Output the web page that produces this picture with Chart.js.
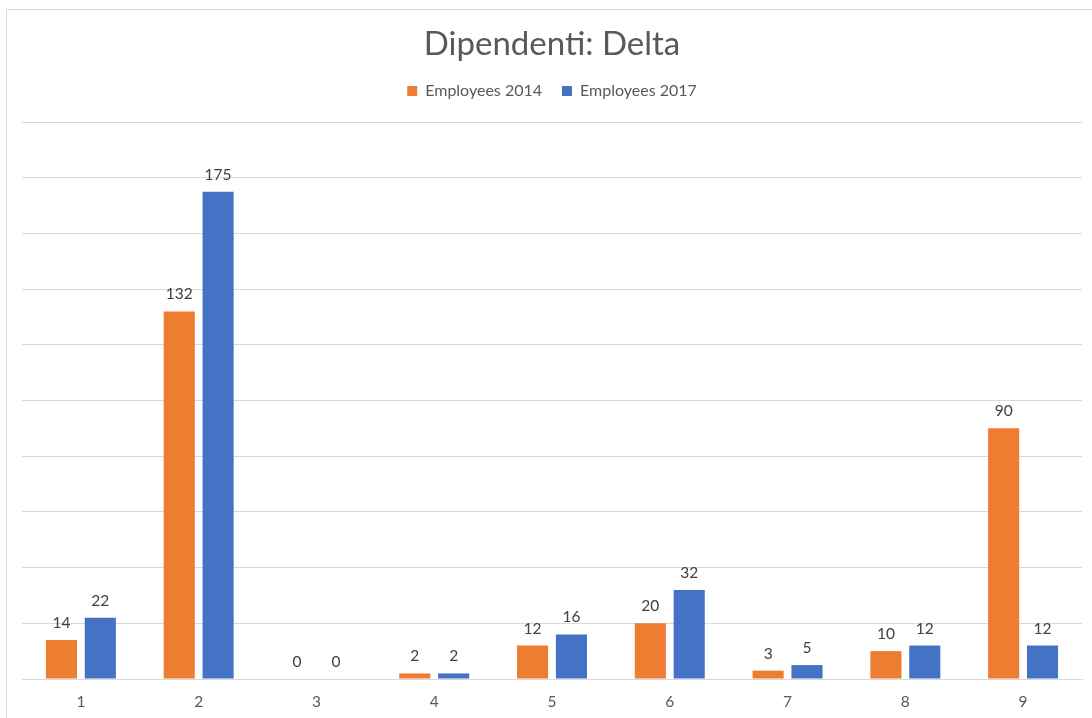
<!DOCTYPE html>
<html>
<head>
<meta charset="utf-8">
<script src="https://cdn.jsdelivr.net/npm/chart.js@4.4.1/dist/chart.umd.min.js"></script>
<style>
  html, body { margin: 0; padding: 0; background: #fff; overflow: hidden; }
  #frame { position: absolute; left: 6px; top: 9px; width: 1200px; height: 800px; border: 1px solid #d9d9d9; box-sizing: border-box; }
  #wrap { position: absolute; left: 0; top: 0; width: 1092px; height: 718px; }
</style>
</head>
<body>
<div id="frame"></div>
<div id="wrap"><canvas id="c" width="1092" height="718"></canvas></div>
<script>
const categories = ['1', '2', '3', '4', '5', '6', '7', '8', '9'];
const employees2014 = [14, 132, 0, 2, 12, 20, 3, 10, 90];
const employees2017 = [22, 175, 0, 2, 16, 32, 5, 12, 12];
const seriesNames = ['Employees 2014', 'Employees 2017'];
const chartTitle = 'Dipendenti: Delta';

const FONT = 'Lato, "Liberation Sans", sans-serif';

const legendSpacer = {
  id: 'legendSpacer',
  beforeLayout(chart) {
    const lg = chart.legend;
    if (lg && !lg._spaced) {
      const orig = lg.fit;
      lg.fit = function () { orig.call(this); this.height += 13; };
      lg._spaced = true;
    }
  }
};

const valueLabels = {
  id: 'valueLabels',
  afterDatasetsDraw(chart) {
    const ctx = chart.ctx;
    ctx.save();
    ctx.font = '15.5px ' + FONT;
    ctx.fillStyle = '#404040';
    ctx.textAlign = 'center';
    ctx.textBaseline = 'alphabetic';
    chart.data.datasets.forEach((ds, di) => {
      const meta = chart.getDatasetMeta(di);
      meta.data.forEach((el, i) => {
        ctx.fillText(String(ds.data[i]), el.x, el.y - 12);
      });
    });
    ctx.restore();
  }
};

new Chart(document.getElementById('c'), {
  type: 'bar',
  data: {
    labels: categories,
    datasets: [
      { label: seriesNames[0], data: employees2014, backgroundColor: '#ED7D31', barPercentage: 0.8, categoryPercentage: 0.66 },
      { label: seriesNames[1], data: employees2017, backgroundColor: '#4472C4', barPercentage: 0.8, categoryPercentage: 0.66 }
    ]
  },
  options: {
    responsive: false,
    animation: false,
    layout: { padding: { left: 22, right: 10, top: 9, bottom: 0 } },
    plugins: {
      title: {
        display: true,
        text: chartTitle,
        color: '#595959',
        font: { family: FONT, size: 33, weight: 'normal', lineHeight: 1.0 },
        padding: { top: 19, bottom: 2 }
      },
      legend: {
        display: true,
        position: 'top',
        labels: {
          color: '#595959',
          font: { family: FONT, size: 16 },
          boxWidth: 10,
          boxHeight: 10,
          padding: 20
        }
      },
      tooltip: { enabled: false }
    },
    scales: {
      x: {
        grid: { display: false, drawTicks: false },
        border: { display: true, color: '#d9d9d9' },
        ticks: { color: '#595959', font: { family: FONT, size: 15.5 }, padding: 14 },
        afterFit(scale) { scale.height = 39; }
      },
      y: {
        min: 0, max: 200,
        grid: { color: '#d9d9d9', drawTicks: false },
        border: { display: false },
        ticks: { display: false, stepSize: 20 }
      }
    }
  },
  plugins: [legendSpacer, valueLabels]
});
</script>
</body>
</html>
